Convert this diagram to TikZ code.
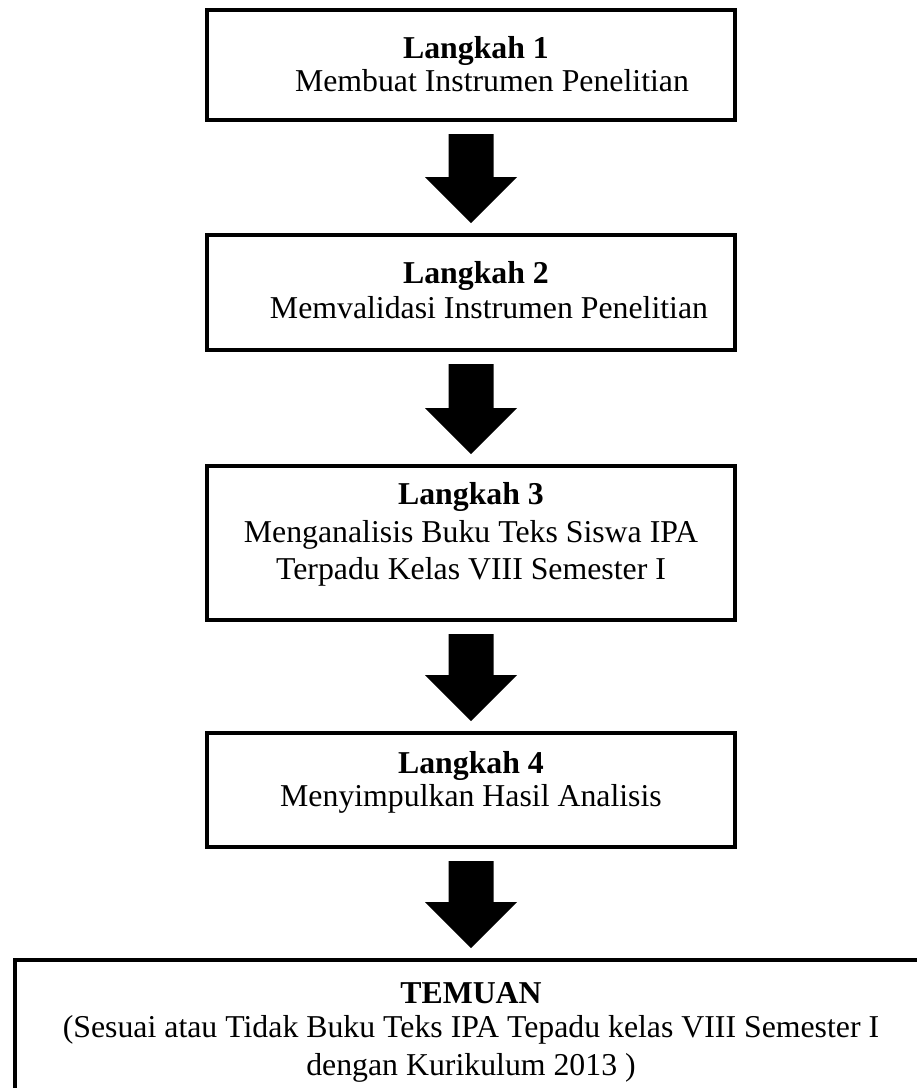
\documentclass[tikz,border=0pt]{standalone}
\usepackage{fontspec}
\setmainfont{Liberation Serif}
\usetikzlibrary{calc}
\tikzset{
  stepbox/.style={draw=black, line width=4pt, rectangle, minimum width=528pt, inner sep=0pt},
  txt/.style={anchor=base, inner sep=0pt, font=\fontsize{31.8}{37}\selectfont},
  hd/.style={txt, font=\fontsize{31.8}{37}\selectfont\bfseries},
  bigarrow/.style={fill=black}
}
\newcommand{\blockarrow}[2]{%
  \coordinate (tipend) at ($(#1.south |- #2.north)+(0,-10)$);
  \fill[bigarrow] ($(#1.south)+(-22.5,12)$) -- ($(#1.south)+(22.5,12)$)
    -- ($(tipend)+(22.5,-46)$) -- ($(tipend)+(46,-46)$)
    -- (tipend) -- ($(tipend)+(-46,-46)$)
    -- ($(tipend)+(-22.5,-46)$) -- cycle;}
\begin{document}
\begin{tikzpicture}[x=1pt,y=-1pt]
\clip (0,0) rectangle (917,1088);
\fill[white] (0,0) rectangle (917,1088);
% boxes
\node[stepbox, minimum height=110pt] (b1) at (471,65) {};
\node[stepbox, minimum height=115pt] (b2) at (471,292.5) {};
\node[stepbox, minimum height=154pt] (b3) at (471,543) {};
\node[stepbox, minimum height=114pt] (b4) at (471,790) {};
\node[draw=black, line width=4pt, rectangle, minimum width=920pt, minimum height=160pt, anchor=north west, inner sep=0pt] (b5) at (13,958) {};
% texts
\node[hd] (t1a) at (476,58) {Langkah 1};
\node[txt] (t1b) at (492,91) {Membuat Instrumen Penelitian};
\node[hd] (t2a) at (476,283) {Langkah 2};
\node[txt] (t2b) at (489,318) {Memvalidasi Instrumen Penelitian};
\node[hd] (t3a) at (471,504) {Langkah 3};
\node[txt] (t3b) at (471,542) {Menganalisis Buku Teks Siswa IPA};
\node[txt] (t3c) at (471,579) {Terpadu Kelas VIII Semester I};
\node[hd] (t4a) at (471,773) {Langkah 4};
\node[txt] (t4b) at (471,806) {Menyimpulkan Hasil Analisis};
\node[hd] (t5a) at (471,1003) {TEMUAN};
\node[txt] (t5b) at (471,1037) {(Sesuai atau Tidak Buku Teks IPA Tepadu kelas VIII Semester I};
\node[txt] (t5c) at (471,1075) {dengan Kurikulum 2013 )};
% arrows
\blockarrow{b1}{b2}
\blockarrow{b2}{b3}
\blockarrow{b3}{b4}
\blockarrow{b4}{b5}
\end{tikzpicture}
\end{document}
